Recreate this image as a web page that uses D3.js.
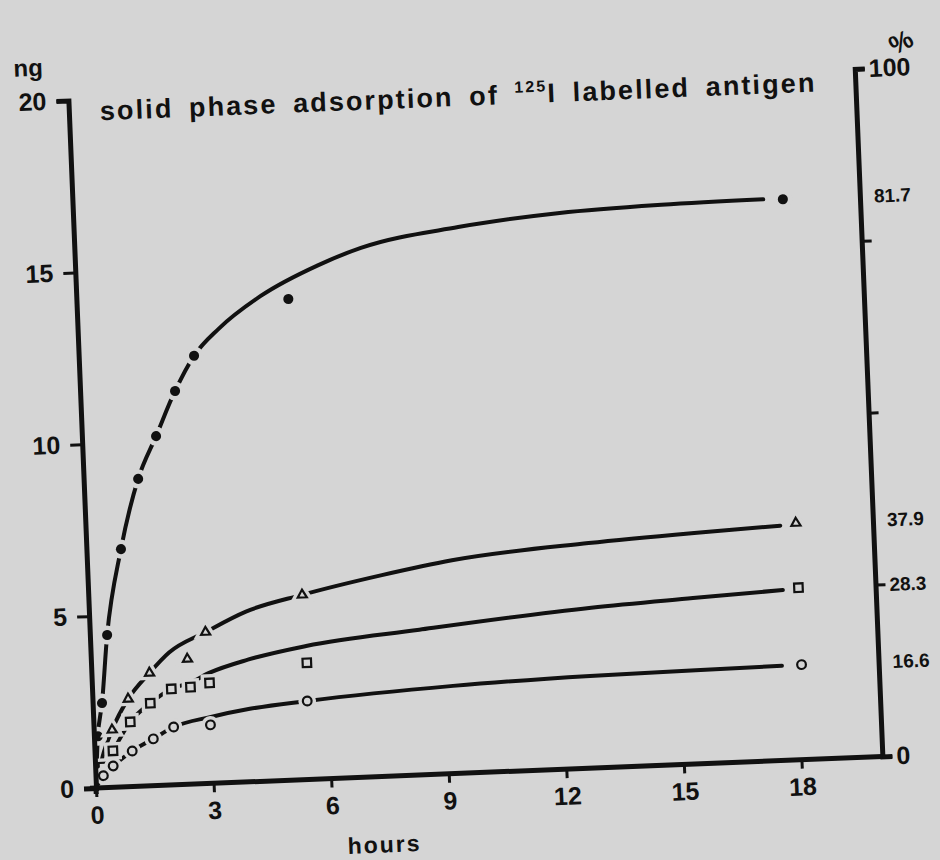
<!DOCTYPE html>
<html>
<head>
<meta charset="utf-8">
<script src="https://cdn.jsdelivr.net/npm/d3@7"></script>
<style>
  body { margin: 0; background: #d5d5d5; }
  text { font-family: "Liberation Sans", Arial, sans-serif; font-weight: bold; fill: #111; }
</style>
</head>
<body>
<div id="chart"></div>
<script>
// ---- data (hours, ng) ----
var hourTicks = [0, 3, 6, 9, 12, 15, 18];
var ngTicks = [0, 5, 10, 15, 20];
var pctTicks = [0, 25, 50, 75, 100];

// filled circles
var hoursDot = [0.1, 0.24, 0.44, 0.88, 1.39, 1.89, 2.42, 2.94, 5.4, 18.1];
var ngDot    = [1.5, 2.46, 4.43, 6.91, 8.93, 10.15, 11.44, 12.44, 13.98, 16.3];
var curveDotH  = [0, 0.1, 0.24, 0.44, 0.88, 1.39, 1.89, 2.42, 2.94, 3.6, 4.7, 6.2, 7.3, 9.8, 12.4, 15.0, 17.6];
var curveDotNg = [0, 1.5, 2.46, 4.43, 6.91, 8.93, 10.15, 11.44, 12.44, 13.2, 14.1, 14.93, 15.38, 15.87, 16.16, 16.28, 16.32];

// open triangles
var hoursTri = [0.47, 0.91, 1.48, 2.46, 2.95, 5.45, 18.1];
var ngTri    = [1.67, 2.55, 3.28, 3.64, 4.40, 5.37, 6.88];
var curveTriH  = [0, 0.2, 0.47, 0.91, 1.48, 2.0, 2.95, 4.0, 5.45, 7.5, 9.3, 12.8, 15.5, 17.7];
var curveTriNg = [0, 0.9, 1.67, 2.55, 3.28, 3.85, 4.40, 4.95, 5.37, 5.85, 6.2, 6.54, 6.71, 6.82];

// open squares
var hoursSq = [0.2, 0.47, 0.94, 1.47, 2.02, 2.51, 3.0, 5.5, 18.1];
var ngSq    = [0.6, 1.06, 1.88, 2.40, 2.79, 2.82, 2.92, 3.39, 5.0];
var curveSqH  = [0, 0.2, 0.47, 0.94, 1.47, 2.02, 2.51, 3.0, 4.0, 5.5, 8.4, 12.8, 15.4, 17.7];
var curveSqNg = [0, 0.6, 1.06, 1.88, 2.40, 2.79, 2.95, 3.21, 3.55, 3.88, 4.22, 4.66, 4.82, 4.95];

// open circles
var hoursCirc = [0.2, 0.46, 0.96, 1.51, 2.04, 2.98, 5.47, 18.1];
var ngCirc    = [0.35, 0.62, 1.03, 1.36, 1.68, 1.70, 2.28, 2.76];
var curveCircH  = [0, 0.2, 0.46, 0.96, 1.51, 2.04, 3.0, 4.0, 5.47, 9.2, 12.7, 15.4, 17.6];
var curveCircNg = [0, 0.35, 0.62, 1.03, 1.36, 1.68, 1.93, 2.12, 2.28, 2.55, 2.68, 2.72, 2.75];

var endLabels = ["81.7", "37.9", "28.3", "16.6"];

var width = 940, height = 860, bg = "#d5d5d5", ink = "#111";

var svg = d3.select("#chart").append("svg")
    .attr("width", width)
    .attr("height", height)
    .style("background", bg);

// the scanned figure sits slightly tilted
var g = svg.append("g").attr("transform", "translate(96,788) rotate(-2.3)");

var x = d3.scaleLinear().domain([0, 18]).range([0, 706]);
var y = d3.scaleLinear().domain([0, 20]).range([0, -688]);
var yPct = d3.scaleLinear().domain([0, 100]).range([0, -688]);
var xRight = 787;

function zip(a, b) { return a.map(function(d, i) { return [d, b[i]]; }); }

var series = [
  { pts: zip(hoursDot, ngDot),   curve: zip(curveDotH, curveDotNg),   shape: "dot",  label: endLabels[0] },
  { pts: zip(hoursTri, ngTri),   curve: zip(curveTriH, curveTriNg),   shape: "tri",  label: endLabels[1] },
  { pts: zip(hoursSq, ngSq),     curve: zip(curveSqH, curveSqNg),     shape: "sq",   label: endLabels[2] },
  { pts: zip(hoursCirc, ngCirc), curve: zip(curveCircH, curveCircNg), shape: "circ", label: endLabels[3] }
];

// ---- curves ----
var line = d3.line()
    .x(function(d) { return x(d[0]); })
    .y(function(d) { return y(d[1]); })
    .curve(d3.curveMonotoneX);

g.selectAll(".curve").data(series).enter().append("path")
    .attr("class", "curve")
    .attr("d", function(d) { return line(d.curve); })
    .attr("fill", "none")
    .attr("stroke", ink)
    .attr("stroke-width", 4)
    .attr("stroke-linecap", "round");

// ---- markers (with a background halo that breaks the curve) ----
var sym = {
  dot:  d3.symbol().type(d3.symbolCircle).size(80),
  circ: d3.symbol().type(d3.symbolCircle).size(60),
  sq:   d3.symbol().type(d3.symbolSquare).size(72),
  tri:  d3.symbol().type(d3.symbolTriangle).size(36)
};

series.forEach(function(s) {
  var grp = g.append("g");
  grp.selectAll(".halo").data(s.pts).enter().append("path")
      .attr("class", "halo")
      .attr("transform", function(d) { return "translate(" + x(d[0]) + "," + y(d[1]) + ")"; })
      .attr("d", sym[s.shape]())
      .attr("fill", bg)
      .attr("stroke", bg)
      .attr("stroke-width", 9);
  grp.selectAll(".mark").data(s.pts).enter().append("path")
      .attr("class", "mark")
      .attr("transform", function(d) { return "translate(" + x(d[0]) + "," + y(d[1]) + ")"; })
      .attr("d", sym[s.shape]())
      .attr("fill", s.shape === "dot" ? ink : bg)
      .attr("stroke", ink)
      .attr("stroke-width", s.shape === "dot" ? 0 : 2.2);
  var last = s.pts[s.pts.length - 1];
  g.append("text")
      .attr("x", xRight + 14)
      .attr("y", y(last[1]) + 7)
      .attr("font-size", 19)
      .text(s.label);
});

// ---- axes (drawn on top of the marks) ----
var left = g.append("g").call(d3.axisLeft(y).tickValues(ngTicks).tickSize(12).tickSizeOuter(12).tickPadding(10));
var bottom = g.append("g").call(d3.axisBottom(x).tickValues(hourTicks).tickSize(9).tickSizeOuter(0).tickPadding(9));
var right = g.append("g").attr("transform", "translate(" + xRight + ",0)")
    .call(d3.axisRight(yPct).tickValues(pctTicks).tickSize(10).tickSizeOuter(10).tickPadding(4)
      .tickFormat(function(d) { return (d === 0 || d === 100) ? d : ""; }));

[left, bottom, right].forEach(function(a) {
  a.select(".domain").attr("stroke", ink).attr("stroke-width", 5);
  a.selectAll(".tick line").attr("stroke", ink).attr("stroke-width", 3);
  a.selectAll("text").attr("fill", ink).attr("font-size", 25)
    .attr("font-family", "Liberation Sans, Arial, sans-serif").attr("font-weight", "bold");
});
bottom.select(".domain").remove();
g.append("line").attr("x1", -6).attr("x2", xRight).attr("y1", 0).attr("y2", 0)
  .attr("stroke", ink).attr("stroke-width", 5);
g.append("line").attr("x1", 0).attr("x2", 0).attr("y1", 6).attr("y2", 0)
  .attr("stroke", ink).attr("stroke-width", 5);

// ---- texts ----
var title = g.append("text")
    .attr("x", 31).attr("y", -667)
    .attr("font-size", 27)
    .attr("word-spacing", 6)
    .attr("textLength", 715)
    .attr("lengthAdjust", "spacing");
title.append("tspan").text("solid phase adsorption of ");
title.append("tspan").attr("font-size", 16).attr("dy", -11).text("125");
title.append("tspan").attr("dy", 11).text("I labelled antigen");

g.append("text")
    .attr("x", -39).attr("y", -714)
    .attr("text-anchor", "middle")
    .attr("font-size", 24)
    .text("ng");

g.append("text")
    .attr("x", 286).attr("y", 76)
    .attr("text-anchor", "middle")
    .attr("font-size", 23)
    .attr("letter-spacing", 2)
    .text("hours");

g.append("text")
    .attr("transform", "translate(838,-705) rotate(-25)")
    .attr("text-anchor", "middle")
    .attr("font-size", 26)
    .text("%");
</script>
</body>
</html>
